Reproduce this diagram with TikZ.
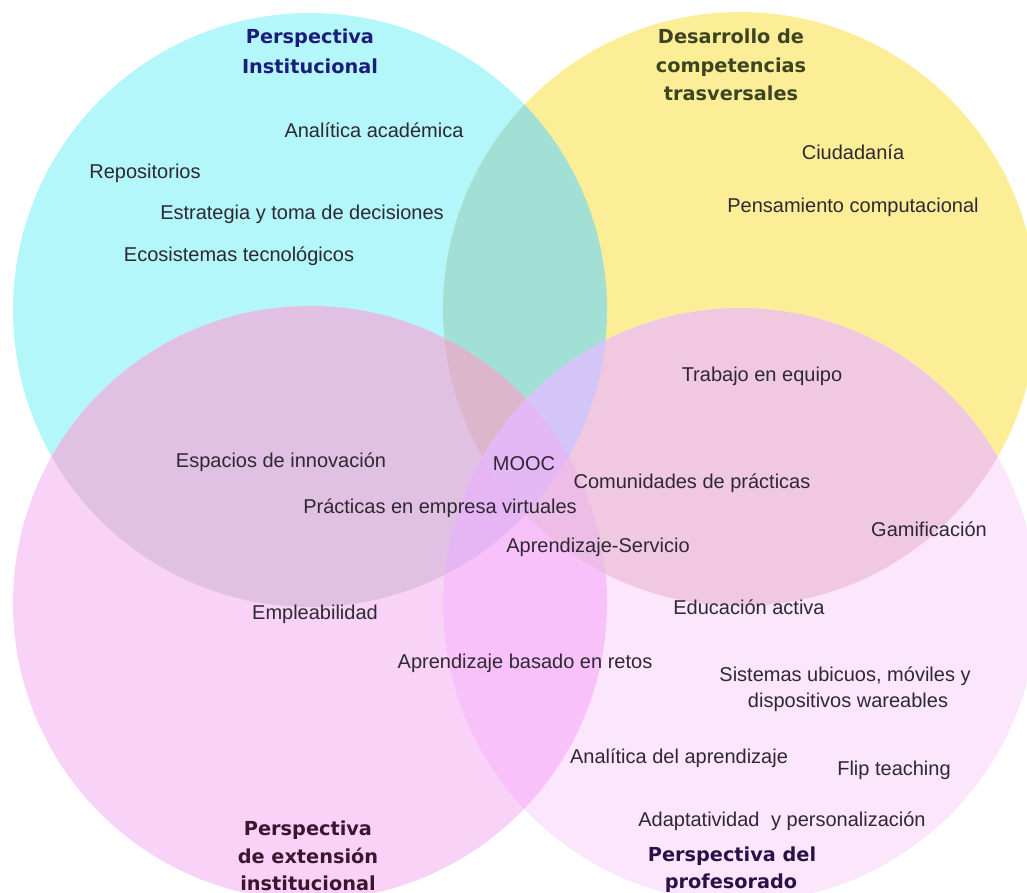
\documentclass[tikz,border=0pt]{standalone}
\usepackage{fontspec}
\setmainfont{Liberation Sans}
\newfontfamily\headfont{DejaVu Sans}

% region colours of the four-set diagram
\definecolor{cC}{HTML}{B3F7FB}
\definecolor{cY}{HTML}{FBEE96}
\definecolor{cPL}{HTML}{F9D3F7}
\definecolor{cPR}{HTML}{FCE6FB}
\definecolor{cCY}{HTML}{A2DFD5}
\definecolor{cCPL}{HTML}{E1C1E3}
\definecolor{cCPR}{HTML}{D8CCF6}
\definecolor{cYPL}{HTML}{E8C6D6}
\definecolor{cYPR}{HTML}{F0C9E1}
\definecolor{cPLPR}{HTML}{F8C1F9}
\definecolor{cCYPL}{HTML}{DCB6CB}
\definecolor{cCYPR}{HTML}{D4C5F8}
\definecolor{cCPLPR}{HTML}{E6B6F4}
\definecolor{cYPLPR}{HTML}{EDBDE8}
\definecolor{cAll}{HTML}{E4B8F4}
% text colours
\definecolor{txt}{HTML}{2E2832}
\definecolor{tInst}{HTML}{1C1C7A}
\definecolor{tComp}{HTML}{3C4422}
\definecolor{tExt}{HTML}{3C1530}
\definecolor{tProf}{HTML}{2A1248}

\def\Ccirc{(310,310) circle[radius=297pt]}
\def\Ycirc{(740,309) circle[radius=297pt]}
\def\PLcirc{(310,603) circle[radius=297pt]}
\def\PRcirc{(740,605) circle[radius=297pt]}

\begin{document}
\begin{tikzpicture}[x=1pt,y=-1pt,
  lbl/.style={anchor=base, inner sep=0pt, text=txt,
    font=\fontsize{20}{24}\selectfont},
  ttl/.style={anchor=base, inner sep=0pt,
    font=\headfont\bfseries\fontsize{19.3}{24}\selectfont}]

\useasboundingbox (0,0) rectangle (1027,892);
\fill[white] (0,0) rectangle (1027,892);
\clip (0,0) rectangle (1027,892);

% single sets
\fill[cC] \Ccirc;
\fill[cY] \Ycirc;
\fill[cPL] \PLcirc;
\fill[cPR] \PRcirc;
% pairwise intersections
\begin{scope}\clip \Ccirc; \fill[cCY] \Ycirc; \end{scope}
\begin{scope}\clip \Ccirc; \fill[cCPL] \PLcirc; \end{scope}
\begin{scope}\clip \Ccirc; \fill[cCPR] \PRcirc; \end{scope}
\begin{scope}\clip \Ycirc; \fill[cYPL] \PLcirc; \end{scope}
\begin{scope}\clip \Ycirc; \fill[cYPR] \PRcirc; \end{scope}
\begin{scope}\clip \PLcirc; \fill[cPLPR] \PRcirc; \end{scope}
% triple intersections
\begin{scope}\clip \Ccirc; \clip \Ycirc; \fill[cCYPL] \PLcirc; \end{scope}
\begin{scope}\clip \Ccirc; \clip \Ycirc; \fill[cCYPR] \PRcirc; \end{scope}
\begin{scope}\clip \Ccirc; \clip \PLcirc; \fill[cCPLPR] \PRcirc; \end{scope}
\begin{scope}\clip \Ycirc; \clip \PLcirc; \fill[cYPLPR] \PRcirc; \end{scope}
% centre, all four sets
\begin{scope}\clip \Ccirc; \clip \Ycirc; \clip \PLcirc; \fill[cAll] \PRcirc; \end{scope}

% set titles
\node[ttl, text=tInst] (inst1) at (310,43) {Perspectiva};
\node[ttl, text=tInst] (inst2) at (310,73) {Institucional};
\node[ttl, text=tComp] (comp1) at (731,43) {Desarrollo de};
\node[ttl, text=tComp] (comp2) at (731,72) {competencias};
\node[ttl, text=tComp] (comp3) at (731,100) {trasversales};
\node[ttl, text=tExt] (ext1) at (308,835) {Perspectiva};
\node[ttl, text=tExt] (ext2) at (308,863) {de extensión};
\node[ttl, text=tExt] (ext3) at (308,890) {institucional};
\node[ttl, text=tProf] (prof1) at (732,861) {Perspectiva del};
\node[ttl, text=tProf] (prof2) at (731,888) {profesorado};

% items
\node[lbl] (analitica) at (374,137) {Analítica académica};
\node[lbl] (repos) at (145,178) {Repositorios};
\node[lbl] (estrategia) at (302,219) {Estrategia y toma de decisiones};
\node[lbl] (ecosis) at (239,261) {Ecosistemas tecnológicos};
\node[lbl] (ciudad) at (853,159) {Ciudadanía};
\node[lbl] (pensam) at (853,212) {Pensamiento computacional};
\node[lbl] (trabajo) at (762,381) {Trabajo en equipo};
\node[lbl] (mooc) at (524,470) {MOOC};
\node[lbl] (comunid) at (692,488) {Comunidades de prácticas};
\node[lbl] (espacios) at (281,467) {Espacios de innovación};
\node[lbl] (practicas) at (440,513) {Prácticas en empresa virtuales};
\node[lbl] (apserv) at (598,552) {Aprendizaje-Servicio};
\node[lbl] (gamif) at (929,536) {Gamificación};
\node[lbl] (emplea) at (315,619) {Empleabilidad};
\node[lbl] (educ) at (749,614) {Educación activa};
\node[lbl] (retos) at (525,668) {Aprendizaje basado en retos};
\node[lbl] (sist1) at (845,681) {Sistemas ubicuos, móviles y};
\node[lbl] (sist2) at (848,707) {dispositivos wareables};
\node[lbl] (analap) at (679,763) {Analítica del aprendizaje};
\node[lbl] (flip) at (894,775) {Flip teaching};
\node[lbl] (adapt) at (782,826) {Adaptatividad\hspace{0.3em} y personalización};
\end{tikzpicture}
\end{document}
